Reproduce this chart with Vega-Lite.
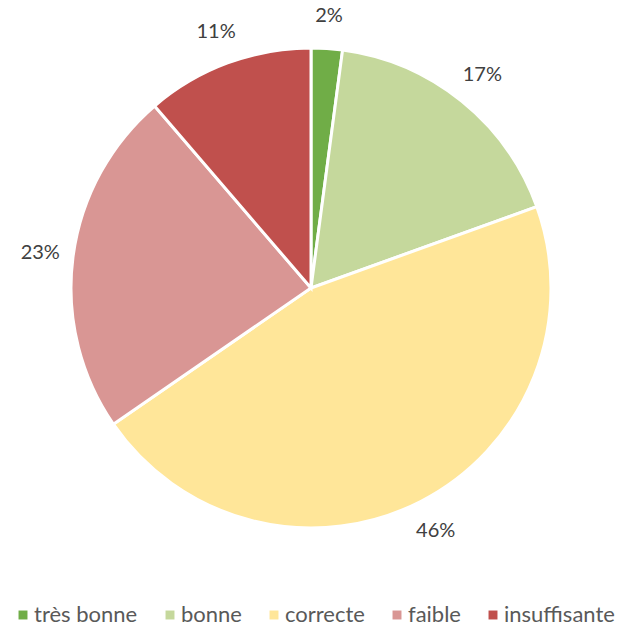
{
  "$schema": "https://vega.github.io/schema/vega-lite/v6.json",
  "width": 614,
  "height": 576,
  "padding": {"left": 4, "top": 0, "right": 0, "bottom": 0},
  "autosize": {"type": "pad"},
  "background": "white",
  "data": {
    "values": [
      {"cat": "très bonne", "value": 2.1, "label": "2%", "ord": 1},
      {"cat": "bonne", "value": 17.4, "label": "17%", "ord": 2},
      {"cat": "correcte", "value": 45.9, "label": "46%", "ord": 3},
      {"cat": "faible", "value": 23.3, "label": "23%", "ord": 4},
      {"cat": "insuffisante", "value": 11.3, "label": "11%", "ord": 5}
    ]
  },
  "encoding": {
    "theta": {"field": "value", "type": "quantitative", "stack": true},
    "order": {"field": "ord", "type": "quantitative"}
  },
  "layer": [
    {
      "mark": {"type": "arc", "outerRadius": 240, "stroke": "white", "strokeWidth": 3},
      "encoding": {
        "color": {
          "field": "cat",
          "type": "nominal",
          "sort": ["très bonne", "bonne", "correcte", "faible", "insuffisante"],
          "scale": {
            "domain": ["très bonne", "bonne", "correcte", "faible", "insuffisante"],
            "range": ["#70AD47", "#C5D89C", "#FFE699", "#D99694", "#C0504D"]
          },
          "legend": {
            "title": null,
            "orient": "none",
            "legendX": 8,
            "legendY": 604,
            "direction": "horizontal",
            "symbolType": "square",
            "symbolSize": 80,
            "symbolStrokeWidth": 0,
            "labelFont": "Lato",
            "labelFontSize": 22,
            "labelColor": "#595959",
            "labelOffset": 0,
            "columnPadding": 21
          }
        }
      }
    },
    {
      "mark": {"type": "text", "radius": 273, "font": "Lato", "fontSize": 20, "color": "#404040"},
      "encoding": {
        "text": {"field": "label", "type": "nominal"}
      }
    }
  ]
}
